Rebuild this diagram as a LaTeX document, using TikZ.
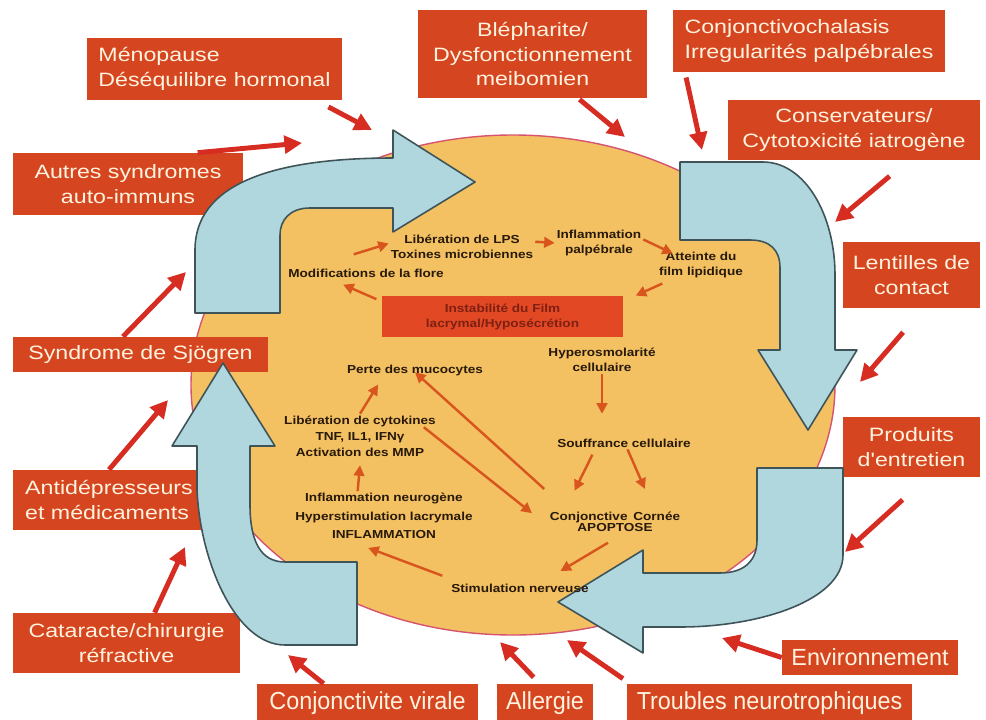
\documentclass[tikz,border=0pt]{standalone}
\usepackage{fontspec}
\setmainfont{Liberation Sans}
\newfontfamily\boxfont[FakeStretch=1.2]{Liberation Sans}
\newfontfamily\lowfont[FakeStretch=0.95]{Liberation Sans}
\newfontfamily\midfont[FakeStretch=1.17]{Liberation Sans}
\usepackage{tikz}
\usetikzlibrary{arrows.meta}
\usetikzlibrary{calc}

\definecolor{causered}{RGB}{213,70,32}
\definecolor{causetext}{RGB}{255,242,222}
\definecolor{arrowred}{RGB}{214,44,34}
\definecolor{eyeorange}{RGB}{243,193,98}
\definecolor{eyerim}{RGB}{214,84,112}
\definecolor{cycleblue}{RGB}{176,214,222}
\definecolor{cycleline}{RGB}{62,84,88}
\definecolor{innerred}{RGB}{216,86,30}
\definecolor{innertext}{RGB}{40,25,10}
\definecolor{instred}{RGB}{226,72,36}
\definecolor{insttext}{RGB}{125,32,18}

\tikzset{
  cause/.style={fill=causered, text=causetext, inner sep=0pt, align=center,
    font=\boxfont\fontsize{11}{14.2}\selectfont},
  lowcause/.style={cause, font=\lowfont\fontsize{14}{16}\selectfont},
  inner/.style={text=innertext, inner sep=1pt, align=center,
    font=\midfont\bfseries\fontsize{6.6}{8.5}\selectfont},
  ext/.style={draw, color=arrowred, line width=2.8pt, -{Triangle[length=10pt,width=10pt]}},
  inarr/.style={draw, color=innerred, line width=1.4pt, -{Triangle[length=6pt,width=6pt]}},
  cyc/.style={fill=cycleblue, draw=cycleline, line width=0.9pt, line join=round},
}

\begin{document}
\begin{tikzpicture}[x=0.2mm, y=-0.2mm]
\fill[white] (0,0) rectangle (986,720);
\useasboundingbox (0,0) rectangle (986,720);

% the eye
\filldraw[fill=eyeorange, draw=eyerim, line width=0.8pt] (513,385) ellipse [x radius=322, y radius=250];

% causes
\node[cause, minimum width=51mm, minimum height=12.4mm, align=left] (meno) at (214.5,69) {Ménopause\\Déséquilibre hormonal};
\node[cause, minimum width=46mm, minimum height=12.4mm] (autres) at (128,184) {Autres syndromes\\auto-immuns};
\node[cause, minimum width=45.8mm, minimum height=17.6mm] (bleph) at (532.5,54) {Blépharite/\\Dysfonctionnement\\meibomien};
\node[cause, minimum width=54.4mm, minimum height=12.4mm, align=left] (conjch) at (809,41) {Conjonctivochalasis\\Irregularités palpébrales};
\node[cause, minimum width=50.4mm, minimum height=12mm] (conserv) at (854,130) {Conservateurs/\\Cytotoxicité iatrogène};
\node[cause, minimum width=27.4mm, minimum height=13.2mm] (lent) at (911.5,275) {Lentilles de\\contact};
\node[cause, minimum width=27.4mm, minimum height=12mm] (prod) at (911.5,447) {Produits\\d'entretien};
\node[cause, minimum width=35.2mm, minimum height=7mm, font=\fontsize{13.3}{15}\selectfont] (envir) at (870,657.5) {Environnement};
\node[lowcause, minimum width=57mm, minimum height=7.6mm] (troub) at (769.5,703) {Troubles neurotrophiques};
\node[lowcause, minimum width=19.2mm, minimum height=7.6mm] (allerg) at (545,703) {Allergie};
\node[lowcause, minimum width=44.2mm, minimum height=7.6mm] (conjv) at (367.5,703) {Conjonctivite virale};
\node[cause, minimum width=45.4mm, minimum height=12mm] (cat) at (126.5,643) {Cataracte/chirurgie\\réfractive};
\node[cause, minimum width=38.4mm, minimum height=12mm, align=left] (antidep) at (109,500) {Antidépresseurs\\et médicaments};
\node[cause, minimum width=51mm, minimum height=7mm] (sjog) at (140.5,354.5) {Syndrome de Sjögren};

% vicious circle
\filldraw[cyc] (195,313) -- (195,250) .. controls (195,185) and (270,158) .. (393,158) -- (393,130) -- (475,182)
  -- (393,232) -- (393,208) -- (310,208) .. controls (290,208) and (280,220) .. (280,235) -- (280,313) -- cycle;
\filldraw[cyc] (680,162) -- (763,162) .. controls (805,162) and (835,215) .. (835,275) -- (835,350) -- (857,350)
  -- (808,430) -- (758,350) -- (780,350) -- (780,268) .. controls (780,250) and (770,240) .. (750,240) -- (680,240) -- cycle;
\filldraw[cyc] (757,468) -- (843,468) -- (843,555) .. controls (843,600) and (760,627) .. (680,627) -- (643,627)
  -- (643,653) -- (558,602) -- (643,550) -- (643,573) -- (720,573) .. controls (745,573) and (757,560) .. (757,540) -- cycle;
\filldraw[cyc] (223,363) -- (275,446) -- (250,446) -- (250,505) .. controls (250,540) and (260,562) .. (285,562)
  -- (357,562) -- (357,645) -- (285,645) .. controls (235,645) and (200,560) .. (197,490) -- (197,446) -- (172,446) -- cycle;

% mechanisms
\node[inner] (lps) at (462,247) {Libération de LPS\\Toxines microbiennes};
\node[inner] (infl) at (599,243) {Inflammation\\palpébrale};
\node[inner] (att) at (701,265) {Atteinte du\\film lipidique};
\node[inner] (mod) at (366,273) {Modifications de la flore};
\node[inner, fill=instred, text=insttext, minimum width=48.2mm, minimum height=8.2mm] (inst) at (502.5,316.5) {Instabilité du Film\\lacrymal/Hyposécrétion};
\node[inner] (hyp) at (602,360) {Hyperosmolarité\\cellulaire};
\node[inner] (perte) at (415,370) {Perte des mucocytes};
\node[inner, font=\midfont\bfseries\fontsize{6.6}{9}\selectfont] (cyto) at (360,436) {Libération de cytokines\\TNF, IL1, IFNγ\\Activation des MMP};
\node[inner, font=\midfont\bfseries\fontsize{6.6}{10.5}\selectfont] (neuro) at (384,516) {Inflammation neurogène\\Hyperstimulation lacrymale\\INFLAMMATION};
\node[inner] (souf) at (624,443) {Souffrance cellulaire};
\node[inner] (apo) at (615,522) {Conjonctive\enspace Cornée\\[-2.2pt]APOPTOSE};
\node[inner] (stim) at (520,588) {Stimulation nerveuse};

\path[every edge/.style=inarr]
  ([shift={(-7pt,7pt)}]mod.north) edge ([yshift=2pt]lps.west)
  ([yshift=3pt]lps.east) edge (infl.west)
  ([yshift=2pt]infl.east) edge ([shift={(9pt,-2pt)}]att.north west)
  ([shift={(3pt,-2pt)}]att.south west) edge ([xshift=7pt]inst.north east)
  ([shift={(-3pt,-2pt)}]inst.north west) edge ([shift={(-13pt,-3pt)}]mod.south)
  (hyp.south) edge[shorten >=13pt] (hyp.south |- souf.north)
  ([shift={(-18pt,-3pt)}]souf.south) edge ([shift={(-23pt,11pt)}]apo.north)
  ([xshift=2pt]souf.south) edge ([shift={(17pt,12pt)}]apo.north)
  ([shift={(-4pt,-5pt)}]apo.south) edge ([shift={(23pt,6pt)}]stim.north)
  ([shift={(-4pt,7pt)}]stim.west) edge ([shift={(-9pt,-4pt)}]neuro.south)
  ([xshift=-15pt]neuro.north) edge ([yshift=-4pt]cyto.south)
  (cyto.north) edge ([shift={(-21pt,-4pt)}]perte.south)
  ([shift={(-2pt,12pt)}]apo.north west) edge ([yshift=3pt]perte.south)
  ([shift={(-8pt,5pt)}]cyto.east) edge ([shift={(-9pt,5pt)}]apo.west);

% where the causes hit
\coordinate (menoT) at (372,130);
\coordinate (autresT) at (302,143);
\coordinate (blephT) at (625,137);
\coordinate (conjchT) at (702,150);
\coordinate (conservT) at (835,222);
\coordinate (lentT) at (860,382);
\coordinate (prodT) at (845,552);
\coordinate (envirT) at (722,638);
\coordinate (troubT) at (567,640);
\coordinate (allergT) at (500,642);
\coordinate (conjvT) at (288,655);
\coordinate (catT) at (185,547);
\coordinate (antiT) at (168,400);
\coordinate (sjogT) at (186,272);

\path[every edge/.style=ext]
  ([xshift=-15pt]meno.south east) edge[shorten <=8pt] (menoT)
  ([xshift=-26pt]autres.north east) edge (autresT)
  ([xshift=26pt]bleph.south) edge[shorten <=1pt] (blephT)
  ([xshift=7pt]conjch.south west) edge[shorten <=3pt] (conjchT)
  ([xshift=31pt]conserv.south) edge[shorten <=14pt] (conservT)
  ([xshift=7pt]lent.south) edge[shorten <=18pt] (lentT)
  ([xshift=9pt]prod.south) edge[shorten <=19pt] (prodT)
  (envir.west) edge (envirT)
  ([xshift=2pt]troub.north west) edge[shorten <=5pt] (troubT)
  ([xshift=-3pt]allerg.north) edge[shorten <=5pt] (allergT)
  ([xshift=-25pt]conjv.north) edge (conjvT)
  ([xshift=16pt]cat.north) edge (catT)
  (antidep.north) edge (antiT)
  ([xshift=-10pt]sjog.north) edge (sjogT);
\end{tikzpicture}
\end{document}
